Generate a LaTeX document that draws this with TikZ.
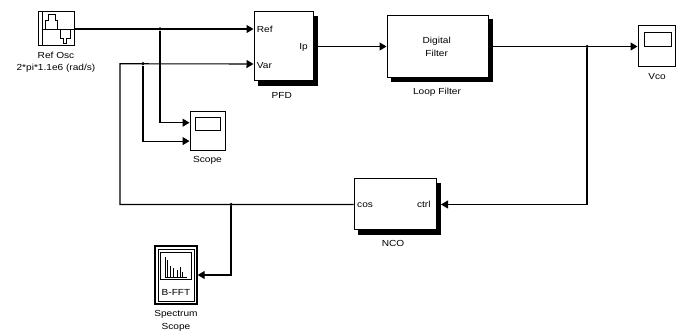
\documentclass[tikz,border=0pt]{standalone}
\usepackage{fontspec}
\newfontfamily\diagfont{Liberation Sans}[FakeStretch=1.15]
\usetikzlibrary{arrows.meta,calc,backgrounds}

\begin{document}
\begin{tikzpicture}[x=1pt,y=-1pt]
          % Define styles
          \tikzstyle{block} = [draw, fill=white, line width=1pt, inner sep=0pt]
          \tikzstyle{wire} = [line width=1.1pt]
          \tikzstyle{sig} = [wire, -{Triangle[length=7pt,width=8pt]}]
          \tikzstyle{lbl} = [font=\diagfont\fontsize{8.8}{10}\selectfont, inner sep=0pt, anchor=base]
          \tikzstyle{dot} = [circle, fill=black, inner sep=0pt, minimum size=3.5pt]

          \useasboundingbox (0,0) rectangle (682,336);

          % Blocks
          \node[block, minimum width=36pt, minimum height=34pt] (osc) at (56,29) {};
          \node[block, minimum width=59pt, minimum height=69pt] (pfd) at (283.5,46.5) {};
          \node[block, minimum width=101pt, minimum height=62pt] (lf) at (437.5,46.5) {};
          \node[block, minimum width=37pt, minimum height=41pt] (vco) at (656.5,46.5) {};
          \node[block, minimum width=35pt, minimum height=39pt] (scope) at (207.5,131.5) {};
          \node[block, minimum width=82pt, minimum height=51pt] (nco) at (395,204.5) {};
          \node[block, line width=1.4pt, minimum width=42pt, minimum height=58pt] (fft) at (176,275) {};

          % Shadows
          \begin{scope}[on background layer]
               \foreach \b in {pfd,lf,nco} {
                    \fill ([shift={(4.5,4.5)}]\b.north west) rectangle ([shift={(4.5,4.5)}]\b.south east);
               }
          \end{scope}

          % Ref Osc icon
          \draw[line width=0.8pt] (42,12) -- (42,46);
          \draw[line width=0.8pt] (42,29) -- (74,29);
          \draw[line width=0.8pt] (45.5,29) -- (45.5,20) -- (48.7,20) -- (48.7,14) -- (55,14) -- (55,20) -- (57.5,20) -- (57.5,29);
          \draw[line width=0.8pt] (60.7,29) -- (60.7,38.3) -- (63.3,38.3) -- (63.3,43.3) -- (66.7,43.3) -- (66.7,38.3) -- (70,38.3) -- (70,29);

          % Scope screens
          \draw[line width=0.8pt] (195,117) rectangle (220,130);
          \draw[line width=0.8pt] (644,32) rectangle (671,46);

          % Spectrum scope icon
          \draw[line width=0.8pt] (158,249) rectangle (194,301);
          \draw[line width=0.8pt] (160,252) rectangle (191,279);
          \draw[line width=0.6pt] (165,257) -- (165,277) -- (187,277);
          \foreach \x/\h in {167.7/260, 170.7/266, 173.3/268, 177.3/270, 180/267, 182.7/272} {
               \draw[line width=0.6pt] (\x,277) -- (\x,\h);
          }

          % Ports
          \coordinate (pfdref) at ($(pfd.north west)!0.25!(pfd.south west)$);
          \coordinate (pfdvar) at ($(pfd.north west)!0.75!(pfd.south west)$);
          \coordinate (scopein1) at ($(scope.north west)!0.28!(scope.south west)$);
          \coordinate (scopein2) at ($(scope.north west)!0.74!(scope.south west)$);
          \coordinate (pfdout) at ([xshift=4.5pt]pfd.east);
          \coordinate (lfout) at ([xshift=4.5pt]lf.east);
          \coordinate (ncoin) at ([xshift=4.5pt]nco.east);
          \coordinate (fbcorner) at (120,63.75);

          % Junctions
          \node[dot] (j1) at (160,29) {};
          \node[dot] (j2) at (143,63.75) {};
          \node[dot] (j3) at (231,204.5) {};
          \node[dot] (j4) at (587,46.5) {};

          % Signals
          \draw[sig] (osc.east) -- (pfdref);
          \draw[sig] (j1) |- (scopein1);
          \draw[sig] (nco.west) -| (fbcorner) -- (pfdvar);
          \draw[sig] (j2) |- (scopein2);
          \draw[sig] (j3) |- (fft.east);
          \draw[sig] (pfdout) -- (lf.west);
          \draw[sig] (lfout) -- (vco.west);
          \draw[sig] (j4) |- (ncoin);

          % Port labels
          \node[lbl, anchor=base west] (refp) at (256.7,33) {Ref};
          \node[lbl, anchor=base west] (varp) at (256.7,68.3) {Var};
          \node[lbl, anchor=base east] (ipp) at (308,50) {Ip};
          \node[lbl, anchor=base west] (cosp) at (357,207.7) {cos};
          \node[lbl, anchor=base east] (ctrlp) at (430.7,207.7) {ctrl};
          \node[lbl] (lftxt1) at (436.7,44) {Digital};
          \node[lbl] (lftxt2) at (436.7,57) {Filter};
          \node[lbl] (ffttxt) at (176,296) {B-FFT};

          % Block labels
          \node[lbl] (osclbl) at (56,58.3) {Ref Osc};
          \node[lbl] (oscpar) at (56,70.7) {2*pi*1.1e6 (rad/s)};
          \node[lbl] (pfdlbl) at (281.7,98.3) {PFD};
          \node[lbl] (lflbl) at (437,95) {Loop Filter};
          \node[lbl] (vcolbl) at (657,80) {Vco};
          \node[lbl] (scopelbl) at (207.5,163) {Scope};
          \node[lbl] (ncolbl) at (393,247) {NCO};
          \node[lbl] (fftlbl1) at (176,316.7) {Spectrum};
          \node[lbl] (fftlbl2) at (176,330) {Scope};

     \end{tikzpicture}
\end{document}
